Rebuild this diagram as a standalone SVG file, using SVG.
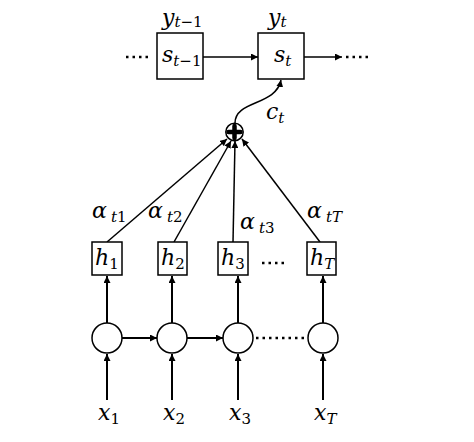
<svg xmlns="http://www.w3.org/2000/svg" width="474" height="442" viewBox="0 0 474 442">
<style>
.box{fill:#fff;stroke:#000;stroke-width:1.5}
.ln{stroke:#000;stroke-width:1.5;fill:none}
.thk{stroke:#000;stroke-width:2;fill:none}
.m{font-family:"DejaVu Serif",serif;font-style:italic;fill:#000}
.b{font-size:22px}
.s{font-size:15px}
.u{font-style:normal}
.dots{stroke:#000;stroke-width:2.5;stroke-dasharray:2.5 4;fill:none}
</style>
<defs>
<marker id="ah" viewBox="0 0 10 10" refX="10" refY="5" markerWidth="7" markerHeight="7" markerUnits="userSpaceOnUse" orient="auto">
<path d="M0,0 L10,5 L0,10 z" fill="#000"/>
</marker>
</defs>
<rect width="474" height="442" fill="#fff"/>
<g id="connectors">
<line class="ln" x1="203" y1="57" x2="258" y2="57" marker-end="url(#ah)"/>
<line class="ln" x1="304" y1="57" x2="342" y2="57" marker-end="url(#ah)"/>
<line class="dots" x1="126" y1="57" x2="150" y2="57"/>
<line class="dots" x1="346" y1="57" x2="372" y2="57"/>
<path class="ln" d="M235,123 C235,100 276,106 281,80" marker-end="url(#ah)"/>
<line class="ln" x1="107" y1="242" x2="227" y2="139" marker-end="url(#ah)"/>
<line class="ln" x1="174" y1="242" x2="231" y2="141" marker-end="url(#ah)"/>
<line class="ln" x1="233" y1="242" x2="235" y2="141" marker-end="url(#ah)"/>
<line class="ln" x1="320" y1="242" x2="242" y2="139" marker-end="url(#ah)"/>
<line class="thk" x1="107" y1="323" x2="107" y2="276" marker-end="url(#ah)"/>
<line class="thk" x1="172" y1="323" x2="172" y2="276" marker-end="url(#ah)"/>
<line class="thk" x1="238" y1="323" x2="238" y2="276" marker-end="url(#ah)"/>
<line class="thk" x1="323" y1="323" x2="323" y2="276" marker-end="url(#ah)"/>
<line class="thk" x1="107" y1="400" x2="107" y2="354" marker-end="url(#ah)"/>
<line class="thk" x1="172" y1="400" x2="172" y2="354" marker-end="url(#ah)"/>
<line class="thk" x1="238" y1="400" x2="238" y2="354" marker-end="url(#ah)"/>
<line class="thk" x1="323" y1="400" x2="323" y2="354" marker-end="url(#ah)"/>
<line class="thk" x1="122" y1="338" x2="157" y2="338" marker-end="url(#ah)"/>
<line class="thk" x1="187" y1="338" x2="223" y2="338" marker-end="url(#ah)"/>
<line class="dots" x1="256" y1="338" x2="306" y2="338"/>
<line class="dots" x1="262" y1="263" x2="288" y2="263"/>
</g>
<g id="s_prev">
<rect class="box" x="157" y="33" width="46" height="46"/>
<text class="m" x="162" y="25"><tspan class="b">y</tspan><tspan class="s" dy="2">t<tspan class="u">−1</tspan></tspan></text>
<text class="m" x="162" y="62"><tspan class="b">s</tspan><tspan class="s" dy="4">t<tspan class="u">−1</tspan></tspan></text>
</g>
<g id="s_t">
<rect class="box" x="258" y="33" width="46" height="46"/>
<text class="m" x="268" y="25"><tspan class="b">y</tspan><tspan class="s" dy="2">t</tspan></text>
<text class="m" x="274" y="62"><tspan class="b">s</tspan><tspan class="s" dy="4">t</tspan></text>
</g>
<g id="sum">
<circle cx="234.5" cy="132" r="8.7" fill="#fff" stroke="#000" stroke-width="1.5"/>
<path d="M234.5,126 V138 M228.5,132 H240.5" stroke="#000" stroke-width="4.5" stroke-linecap="round"/>
<text class="m" x="266" y="119"><tspan class="b">c</tspan><tspan class="s" dy="4">t</tspan></text>
</g>
<g id="alphas">
<text class="m" x="92" y="218"><tspan class="b">α</tspan><tspan class="s" x="111" dy="4">t<tspan class="u">1</tspan></tspan></text>
<text class="m" x="148" y="218"><tspan class="b">α</tspan><tspan class="s" x="167" dy="4">t<tspan class="u">2</tspan></tspan></text>
<text class="m" x="240" y="229"><tspan class="b">α</tspan><tspan class="s" x="259" dy="4">t<tspan class="u">3</tspan></tspan></text>
<text class="m" x="307" y="218"><tspan class="b">α</tspan><tspan class="s" x="326" dy="4">tT</tspan></text>
</g>
<g id="h1"><rect class="box" x="92" y="242" width="30" height="33"/><text class="m" x="95" y="265"><tspan class="b">h</tspan><tspan class="s u" dy="4">1</tspan></text></g>
<g id="h2"><rect class="box" x="158" y="242" width="29" height="33"/><text class="m" x="161" y="265"><tspan class="b">h</tspan><tspan class="s u" dy="4">2</tspan></text></g>
<g id="h3"><rect class="box" x="218" y="242" width="30" height="33"/><text class="m" x="221" y="265"><tspan class="b">h</tspan><tspan class="s u" dy="4">3</tspan></text></g>
<g id="hT"><rect class="box" x="307" y="242" width="29" height="33"/><text class="m" x="310" y="265"><tspan class="b">h</tspan><tspan class="s" dy="4">T</tspan></text></g>
<g id="r1"><circle cx="107" cy="338" r="15" fill="#fff" stroke="#000" stroke-width="1.5"/></g>
<g id="r2"><circle cx="172" cy="338" r="15" fill="#fff" stroke="#000" stroke-width="1.5"/></g>
<g id="r3"><circle cx="238" cy="338" r="15" fill="#fff" stroke="#000" stroke-width="1.5"/></g>
<g id="r4"><circle cx="323" cy="338" r="15" fill="#fff" stroke="#000" stroke-width="1.5"/></g>
<g id="x1"><text class="m" x="98" y="420"><tspan class="b">x</tspan><tspan class="s u" dy="4">1</tspan></text></g>
<g id="x2"><text class="m" x="163" y="420"><tspan class="b">x</tspan><tspan class="s u" dy="4">2</tspan></text></g>
<g id="x3"><text class="m" x="229" y="420"><tspan class="b">x</tspan><tspan class="s u" dy="4">3</tspan></text></g>
<g id="xT"><text class="m" x="314" y="420"><tspan class="b">x</tspan><tspan class="s" dy="4">T</tspan></text></g>
</svg>
